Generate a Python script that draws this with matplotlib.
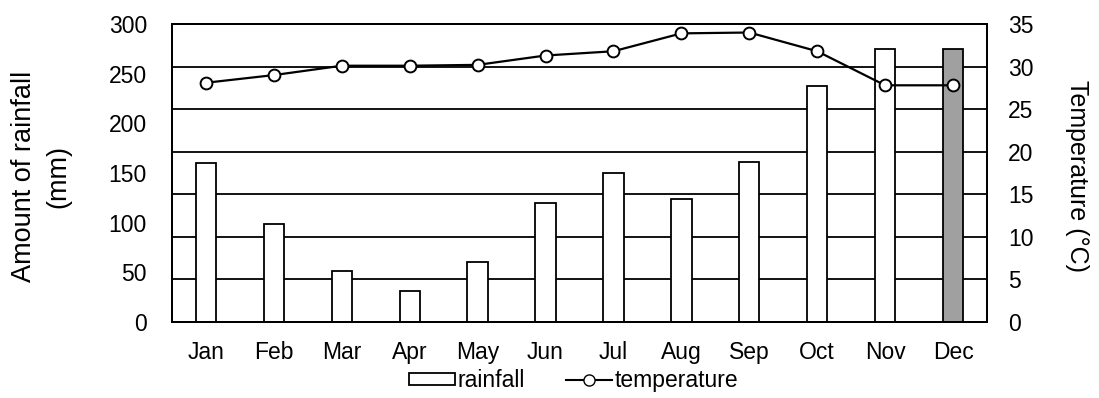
import numpy as np
import matplotlib.pyplot as plt
from matplotlib.patches import Patch
from matplotlib.lines import Line2D

plt.rcParams['font.family'] = ['Liberation Sans', 'DejaVu Sans']

months = ["Jan", "Feb", "Mar", "Apr", "May", "Jun",
          "Jul", "Aug", "Sep", "Oct", "Nov", "Dec"]
rainfall = [160, 99, 51, 31, 60, 120, 150, 124, 161, 238, 275, 275]
temperature = [28.1, 29.0, 30.1, 30.1, 30.2, 31.3, 31.8, 33.9, 34.0, 31.8, 27.8, 27.8]

W, H = 1099, 398
fig = plt.figure(figsize=(W / 100, H / 100), dpi=100)
# plot box in pixels: left 172, right 987, top 24, bottom 322
ax = fig.add_axes([172 / W, 1 - 322 / H, (987 - 172) / W, (322 - 24) / H])
ax2 = ax.twinx()

x = np.arange(len(months))

# grid lines sit on the temperature scale (every 5 degrees)
for v in range(5, 35, 5):
    ax.axhline(v * 300 / 35, color="black", lw=1.3, zorder=1)

faces = ["white"] * (len(months) - 1) + ["#a0a0a0"]
ax.bar(x, rainfall, width=0.3, color=faces, edgecolor="black", linewidth=1.3, zorder=3)
ax.set_ylim(0, 300)
ax.set_yticks(range(0, 301, 50))
ax.set_xlim(-0.5, 11.5)
ax.set_xticks(x)
ax.set_xticklabels(months)

ax2.plot(x, temperature, color="black", lw=1.6, marker="o", ms=8.5,
         mfc="white", mec="black", mew=1.4, zorder=5)
ax2.set_ylim(0, 35)
ax2.set_yticks(range(0, 36, 5))

for a in (ax, ax2):
    a.tick_params(length=0, labelsize=16.5)
    for s in a.spines.values():
        s.set_linewidth(1.4)
ax.tick_params(axis="y", pad=18)
ax2.tick_params(axis="y", pad=15)
ax.tick_params(axis="x", pad=14)

fig.text(24 / W, 1 - 176 / H, "Amount of rainfall", rotation=90, fontsize=19.5,
         ha="center", va="center")
fig.text(58 / W, 1 - 176 / H, "(mm)", rotation=90, fontsize=19.5,
         ha="center", va="center")
fig.text(1077 / W, 1 - 176 / H, "Temperature (°C)", rotation=270, fontsize=18,
         ha="center", va="center")

handles = [Patch(facecolor="white", edgecolor="black", linewidth=1.3),
           Line2D([], [], color="black", lw=1.5, marker="o", ms=8,
                  mfc="white", mec="black")]
fig.legend(handles, ["rainfall", "temperature"], loc="center",
           bbox_to_anchor=(0.522, 0.043), ncol=2, frameon=False, fontsize=16.5,
           handlelength=2.0, handleheight=0.4, handletextpad=0.1,
           columnspacing=1.8)

fig.savefig("out.png", dpi=100)
